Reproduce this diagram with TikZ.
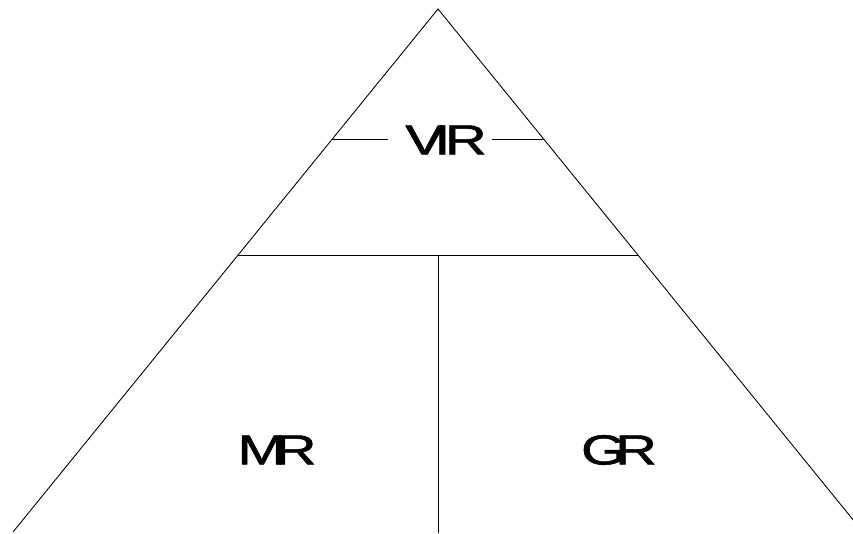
\documentclass[tikz,border=0pt]{standalone}
\usepackage{fontspec}
\setmainfont{Liberation Sans}
\newfontfamily\lblfont[FakeBold=1.2]{Liberation Sans}
\usetikzlibrary{calc}
\tikzset{
  edge/.style ={black,line width=0.9pt},
  lbl/.style  ={font=\lblfont\fontsize{42}{42}\selectfont,inner sep=0pt,xscale=1.38},
}

\begin{document}
\begin{tikzpicture}[x=1pt,y=-1pt]
  \useasboundingbox (0,0) rectangle (853,533);
  \clip (0,0) rectangle (853,533);
  % outline of the pyramid
  \coordinate (top) at (438,9);
  \coordinate (bl) at (13,532);
  \coordinate (br) at (863,532);
  \draw[edge] (bl)--(top)--(br);
  % split lines
  \coordinate (ml) at ($(top)!246/523!(bl)$);
  \coordinate (mr) at ($(top)!246/523!(br)$);
  \coordinate (mid) at (438,255);
  \coordinate (bot) at (438,533);
  \draw[edge] (ml)--(mr);
  \draw[edge] (mid)--(bot);
  % labels
  \node[lbl] (vir) at (446,140){V\kern-7pt I\kern-4pt R};
  \node[lbl] (mrl) at (277,450){M\kern-8pt R};
  \node[lbl] (grl) at (619,450){G\kern-8pt R};
  % short ticks beside the top label
  \coordinate (vl) at ($(top)!130.5/523!(bl)$);
  \coordinate (vr) at ($(top)!130.5/523!(br)$);
  \draw[edge] (vl)--(388,139.5);
  \draw[edge] (492,139.5)--(vr);
\end{tikzpicture}
\end{document}
